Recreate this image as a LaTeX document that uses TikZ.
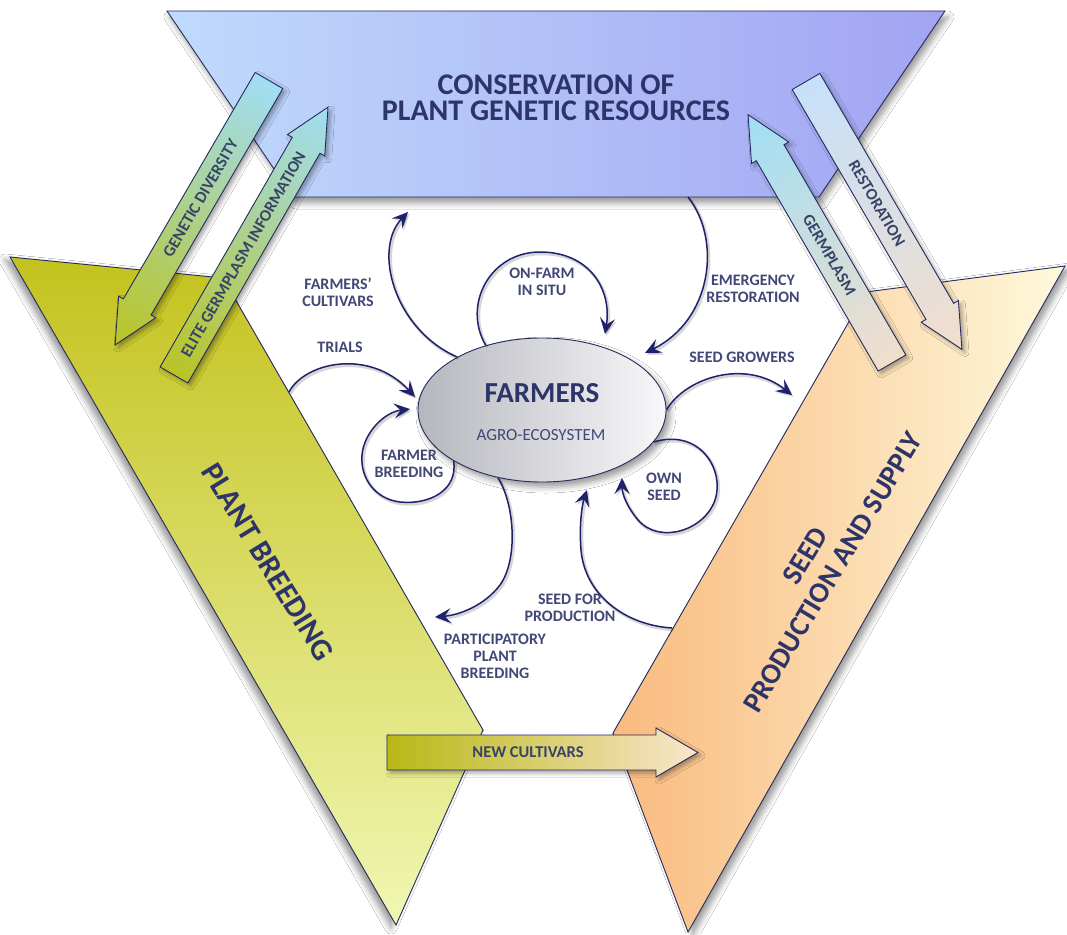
\documentclass[tikz,border=0pt]{standalone}
\usepackage{fontspec}
\setmainfont{Carlito}
\usetikzlibrary{arrows.meta,shadows.blur,shapes.geometric}

% palette
\definecolor{outline}{RGB}{38,44,96}
\definecolor{flowcol}{RGB}{30,34,108}
\definecolor{titlecol}{RGB}{44,52,106}
\definecolor{labelcol}{RGB}{66,72,118}
\definecolor{arrowtxt}{RGB}{56,68,102}
\definecolor{blueL}{RGB}{192,218,252}
\definecolor{blueR}{RGB}{162,164,242}
\definecolor{greenT}{RGB}{196,194,30}
\definecolor{greenB}{RGB}{240,247,178}
\definecolor{orangeL}{RGB}{249,186,126}
\definecolor{orangeR}{RGB}{254,249,220}
\definecolor{ellDark}{RGB}{182,183,190}
\definecolor{ellLight}{RGB}{248,248,250}
\definecolor{cyanA}{RGB}{160,222,244}
\definecolor{oliveA}{RGB}{186,196,36}
\definecolor{peachA}{RGB}{242,222,204}
\definecolor{skyA}{RGB}{198,224,250}
\definecolor{oliveB}{RGB}{184,184,22}
\definecolor{peachB}{RGB}{250,230,204}

\tikzset{
  panel/.style={draw=outline, line width=0.9pt, line join=miter},
  flow/.style={draw=flowcol, line width=1.5pt,
    -{Stealth[length=16pt,width=15pt,inset=6.5pt]},
    preaction={draw=black, opacity=0.16, line width=3pt,
      transform canvas={xshift=1.5pt,yshift=-1.8pt}}},
  lbl/.style={font=\fontsize{16}{17}\selectfont\bfseries, text=labelcol,
    align=center, inner sep=0pt},
  headline/.style={font=\fontsize{30}{26}\selectfont\bfseries, text=titlecol,
    align=center, inner sep=0pt},
  arrowtext/.style={font=\fontsize{16.5}{18}\selectfont\bfseries, text=arrowtxt,
    inner sep=0pt},
  blockbody/.style={draw=outline, line width=0.9pt, line join=miter},
}

% block arrow: #1 name, #2/#3 tail centre, #4 direction, #5 length,
% #6 tail colour, #7 head colour, #8 label, #9 label angle
\newcommand{\drawblockarrow}[9]{%
  \pgfmathsetmacro{\shx}{3*cos(#4)-3*sin(#4)}%
  \pgfmathsetmacro{\shy}{-3*sin(#4)-3*cos(#4)}%
  \begin{scope}[transform canvas={shift={(#2,#3)},rotate=#4}]
    \path[blockbody, left color=#6, right color=#7,
      blur shadow={shadow xshift=\shx pt, shadow yshift=\shy pt,
        shadow blur radius=4pt, shadow opacity=35}]
      (0,-\shaftw) -- ({#5-\headl},-\shaftw) -- ({#5-\headl},-\headw) -- (#5,0)
      -- ({#5-\headl},\headw) -- ({#5-\headl},\shaftw) -- (0,\shaftw) -- cycle;
    \node[arrowtext, rotate=#9] (#1) at (\lblpos,0) {#8};
  \end{scope}}

\begin{document}
\begin{tikzpicture}[x=1pt,y=-1pt]
\useasboundingbox (0,0) rectangle (1067,934);
\fill[white] (0,0) rectangle (1067,934);

% the three panels
\path[panel, top color=greenT, bottom color=greenB,
  blur shadow={shadow xshift=-5pt, shadow yshift=-3pt, shadow blur radius=6pt, shadow opacity=40}]
  (10,257) -- (223,278) -- (483,730) -- (396,925) -- cycle;
\path[panel, left color=orangeL, right color=orangeR,
  blur shadow={shadow xshift=5pt, shadow yshift=-3pt, shadow blur radius=6pt, shadow opacity=40}]
  (866,292) -- (1065,266) -- (688,932) -- (613,733) -- cycle;
\path[panel, left color=blueL, right color=blueR,
  blur shadow={shadow xshift=3pt, shadow yshift=-6pt, shadow blur radius=6pt, shadow opacity=40}]
  (167,11) -- (945,11) -- (819,197) -- (293,197) -- cycle;

\node[headline] (conservation) at (556,98) {CONSERVATION OF\\PLANT GENETIC RESOURCES};
\node[headline, font=\fontsize{31}{32}\selectfont\bfseries, rotate=-58.5]
  (plantbreeding) at (268,562) {PLANT BREEDING};
\node[headline, font=\fontsize{29}{32}\selectfont\bfseries, rotate=59]
  (seedsupply) at (819,564) {SEED\\PRODUCTION AND SUPPLY};

% farmers at the centre
\node[ellipse, draw=outline, line width=0.9pt, minimum width=248pt, minimum height=144pt,
  inner sep=0pt, left color=ellDark, right color=ellLight,
  blur shadow={shadow xshift=4pt, shadow yshift=-5pt, shadow blur radius=6pt, shadow opacity=40}]
  (farmers) at (542,410) {};
\node[headline, font=\fontsize{29}{30}\selectfont\bfseries] (farmerstitle) at (542,393) {FARMERS};
\node[lbl, font=\fontsize{17}{18}\selectfont] (agro) at (541,435) {AGRO-ECOSYSTEM};

% free ends of the flows
\coordinate (cultTip) at (408,212);
\coordinate (onfarmTip) at (605,334);
\coordinate (emergStart) at (688,197);
\coordinate (emergTip) at (645,353);
\coordinate (growTip) at (792,395);
\coordinate (ownTip) at (622,478);
\coordinate (sfpStart) at (672,628);
\coordinate (sfpTip) at (587,490);
\coordinate (ppTip) at (435,617);
\coordinate (fbTip) at (410,409);
\coordinate (trialsStart) at (289,392);
\coordinate (trialsTip) at (415,397);

% flows around the farmers
\draw[flow] (farmers.148) .. controls (395,330) and (372,250) .. (cultTip);
\draw[flow] (farmers.131) .. controls (462,305) and (490,252) .. (540,252)
  .. controls (590,252) and (612,290) .. (onfarmTip);
\draw[flow] (emergStart) .. controls (722,240) and (712,320) .. (emergTip);
\draw[flow] (farmers.0) .. controls (685,378) and (745,358) .. (growTip);
\draw[flow] (farmers.-16) .. controls (700,428) and (725,470) .. (715,500)
  .. controls (705,530) and (660,545) .. (638,520)
  .. controls (628,508) and (622,495) .. (ownTip);
\draw[flow] (sfpStart) .. controls (625,625) and (585,595) .. (581,550)
  .. controls (579,525) and (582,505) .. (sfpTip);
\draw[flow] (farmers.237) .. controls (515,505) and (518,560) .. (500,585)
  .. controls (485,605) and (460,615) .. (ppTip);
\draw[flow] (farmers.210) .. controls (458,490) and (430,505) .. (400,502)
  .. controls (375,499) and (360,478) .. (362,455)
  .. controls (364,432) and (385,412) .. (fbTip);
\draw[flow] (trialsStart) .. controls (305,362) and (370,348) .. (trialsTip);

% flow labels
\node[lbl] (cultLbl) at (338,292.5) {FARMERS'\\CULTIVARS};
\node[lbl] (trialsLbl) at (340,347) {TRIALS};
\node[lbl] (onfarmLbl) at (542,281.5) {ON-FARM\\IN SITU};
\node[lbl] (emergLbl) at (753,289) {EMERGENCY\\RESTORATION};
\node[lbl] (growLbl) at (742,357) {SEED GROWERS};
\node[lbl] (fbLbl) at (409,463.5) {FARMER\\BREEDING};
\node[lbl] (ownLbl) at (664,486.5) {OWN\\SEED};
\node[lbl] (sfpLbl) at (570,607.5) {SEED FOR\\PRODUCTION};
\node[lbl] (ppLbl) at (495,656) {PARTICIPATORY\\PLANT\\BREEDING};

% block arrows between the panels
\def\shaftw{16}\def\headw{21.5}\def\headl{44}
\def\lblpos{136}
\drawblockarrow{genetic}{269}{80.5}{239.8}{306}{cyanA}{oliveA}{GENETIC DIVERSITY}{180}
\def\lblpos{139}
\drawblockarrow{elite}{174}{375}{60.1}{309}{oliveA}{cyanA}{ELITE GERMPLASM INFORMATION}{0}
\def\lblpos{125}
\drawblockarrow{germplasm}{892}{363}{120.1}{287}{peachA}{cyanA}{GERMPLASM}{180}
\def\lblpos{141}
\drawblockarrow{restoration}{806}{81.5}{-59.8}{310}{skyA}{peachA}{RESTORATION}{0}
\def\shaftw{17.5}\def\headw{24.5}\def\headl{42}
\def\lblpos{141}
\drawblockarrow{newcult}{387}{752.5}{0}{311}{oliveB}{peachB}{NEW CULTIVARS}{0}
\end{tikzpicture}
\end{document}
